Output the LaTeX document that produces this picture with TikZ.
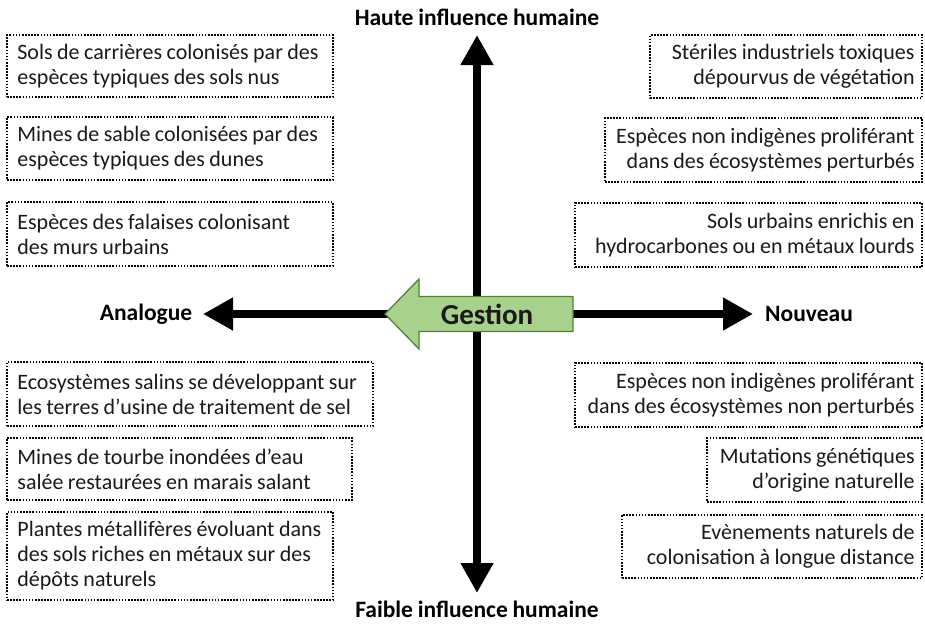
\documentclass[tikz,border=0pt]{standalone}
\usepackage{fontspec}
\setmainfont{Carlito}[WordSpace=0.9]
\usetikzlibrary{arrows.meta}
\definecolor{gfill}{HTML}{A9D18E}
\definecolor{gdraw}{HTML}{548235}
\definecolor{txt}{HTML}{1A1A1A}
\tikzset{
  frame/.style={draw, line width=1.6pt, dash pattern=on 1.6pt off 1.5pt, inner sep=0pt},
  btext/.style={text=txt, font=\fontsize{22}{25}\selectfont, inner sep=0pt},
  ltext/.style={btext, align=left, anchor=west},
  rtext/.style={btext, align=right, anchor=east},
  axisline/.style={line width=8pt, -{Triangle[width=31pt,length=30pt]}},
  lab/.style={font=\bfseries\fontsize{23.5}{28}\selectfont, text=black},
}
\begin{document}
\begin{tikzpicture}[x=1pt,y=-1pt]
\useasboundingbox (0,0) rectangle (925,626);
% axes
\coordinate (o) at (477,314);
\coordinate (tN) at (477,35);
\coordinate (tS) at (477,593);
\coordinate (tW) at (203,314);
\coordinate (tE) at (753,314);
\draw[axisline] (o) -- (tN);
\draw[axisline] (o) -- (tS);
\draw[axisline] (o) -- (tW);
\draw[axisline] (o) -- (tE);
% axis labels
\node[lab] (haute) at (477,17) {Haute influence humaine};
\node[lab] (faible) at (477,609) {Faible influence humaine};
\node[lab] (analogue) at (146,314) {Analogue};
\node[lab] (nouveau) at (809,314) {Nouveau};
% gestion arrow
\draw[fill=gfill, draw=gdraw, line width=1.3pt, line join=miter]
  (573,296.5) -- (419,296.5) -- (419,279) -- (385,314) -- (419,349) -- (419,331.5) -- (573,331.5) -- cycle;
\node[font=\bfseries\fontsize{29}{34}\selectfont, text=txt] (gestion) at (487,314) {Gestion};
% left boxes
\node[frame, minimum width=326pt, minimum height=62pt] (l1) at (170,66) {};
\node[ltext] (l1t) at ([xshift=11pt]l1.west) {Sols de carrières colonisés par des\\espèces typiques des sols nus};
\node[frame, minimum width=326pt, minimum height=63pt] (l2) at (170,148.5) {};
\node[ltext] (l2t) at ([xshift=11pt]l2.west) {Mines de sable colonisées par des\\espèces typiques des dunes};
\node[frame, minimum width=326pt, minimum height=64pt] (l3) at (170,234) {};
\node[ltext] (l3t) at ([xshift=11pt]l3.west) {Espèces des falaises colonisant\\des murs urbains};
\node[frame, minimum width=366pt, minimum height=64pt] (l4) at (190,394) {};
\node[ltext] (l4t) at ([xshift=11pt]l4.west) {Ecosystèmes salins se développant sur\\les terres d’usine de traitement de sel};
\node[frame, minimum width=345pt, minimum height=62pt] (l5) at (179.5,469) {};
\node[ltext] (l5t) at ([xshift=11pt]l5.west) {Mines de tourbe inondées d’eau\\salée restaurées en marais salant};
\node[frame, minimum width=326pt, minimum height=88pt] (l6) at (170,556) {};
\node[ltext] (l6t) at ([xshift=11pt]l6.west) {Plantes métallifères évoluant dans\\des sols riches en métaux sur des\\dépôts naturels};
% right boxes
\node[frame, minimum width=272pt, minimum height=63pt] (r1) at (786,66.5) {};
\node[rtext] (r1t) at ([xshift=-8pt]r1.east) {Stériles industriels toxiques\\dépourvus de végétation};
\node[frame, minimum width=317pt, minimum height=64pt] (r2) at (763.5,150) {};
\node[rtext] (r2t) at ([xshift=-8pt]r2.east) {Espèces non indigènes proliférant\\dans des écosystèmes perturbés};
\node[frame, minimum width=347pt, minimum height=64pt] (r3) at (748.5,235) {};
\node[rtext] (r3t) at ([xshift=-8pt]r3.east) {Sols urbains enrichis en\\hydrocarbones ou en métaux lourds};
\node[frame, minimum width=347pt, minimum height=64pt] (r4) at (748.5,395) {};
\node[rtext] (r4t) at ([xshift=-8pt]r4.east) {Espèces non indigènes proliférant\\dans des écosystèmes non perturbés};
\node[frame, minimum width=215pt, minimum height=64pt] (r5) at (814.5,470) {};
\node[rtext] (r5t) at ([xshift=-8pt]r5.east) {Mutations génétiques\\d’origine naturelle};
\node[frame, minimum width=300pt, minimum height=63pt] (r6) at (772,546.5) {};
\node[rtext] (r6t) at ([xshift=-8pt]r6.east) {Evènements naturels de\\colonisation à longue distance};
\end{tikzpicture}
\end{document}
